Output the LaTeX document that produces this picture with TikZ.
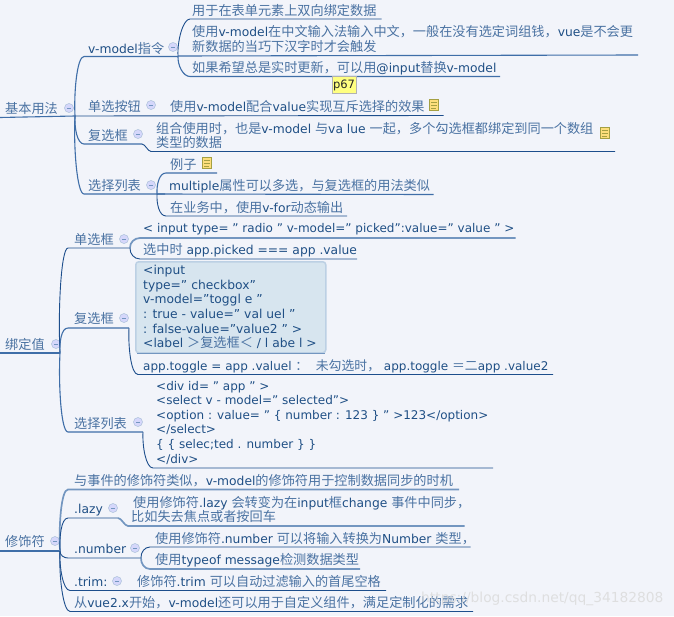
\documentclass[tikz,border=0pt]{standalone}
\usepackage{fontspec}
\setmainfont{DejaVu Sans}
\newfontfamily\cjkfam[Scale=1.07]{Noto Sans CJK SC}
\definecolor{bgc}{HTML}{F2F4FA}
\definecolor{txtc}{HTML}{1F4F85}
\definecolor{cjkc}{HTML}{4A72A2}
\definecolor{dkc}{HTML}{1D4E8C}
\definecolor{midc}{HTML}{3F6EA8}
\definecolor{ltc}{HTML}{7396C0}
\definecolor{boxc}{HTML}{D7E5EF}
\definecolor{boxe}{HTML}{BCD0E4}
\definecolor{stickc}{HTML}{FFFF80}
% automatic switch to the CJK family
\XeTeXinterchartokenstate=1
\newXeTeXintercharclass\cjkcls
\newcount\cjkcnt
\cjkcnt="2E80
\loop\ifnum\cjkcnt<"A000 \XeTeXcharclass\cjkcnt=\cjkcls \advance\cjkcnt by 1 \repeat
\cjkcnt="FF00
\loop\ifnum\cjkcnt<"FFF0 \XeTeXcharclass\cjkcnt=\cjkcls \advance\cjkcnt by 1 \repeat
\XeTeXcharclass"201D=0
\XeTeXinterchartoks 0 \cjkcls = {\begingroup\cjkfam\color{cjkc}}
\XeTeXinterchartoks 4095 \cjkcls = {\begingroup\cjkfam\color{cjkc}}
\XeTeXinterchartoks \cjkcls 0 = {\endgroup}
\XeTeXinterchartoks \cjkcls 4095 = {\endgroup}
\begin{document}
\begin{tikzpicture}[x=1pt,y=-1pt,
  every node/.style={inner sep=0pt},
  tx/.style={anchor=base west,text=txtc,font=\fontsize{12.3}{14.6}\selectfont,align=left},
  txn/.style={tx,font=\fontsize{12}{14.6}\selectfont},
  dk/.style={draw=dkc,line width=0.9pt},
  md/.style={draw=midc,line width=1.1pt},
  lt/.style={draw=ltc,line width=1.7pt},
  hku/.style={out=93,in=180,in max distance=7pt},
  hkd/.style={out=-93,in=180,in max distance=7pt},
  hks/.style={out=0,in=180,looseness=0.7},
  collapse/.style={circle,minimum size=9pt,fill=blue!12!bgc,draw=ltc!60,line width=0.5pt,
    path picture={\draw[ltc,line width=0.9pt]([xshift=2.5pt]path picture bounding box.west)--([xshift=-2.5pt]path picture bounding box.east);}},
  noteicon/.style={rectangle,minimum width=9pt,minimum height=11pt,fill=yellow!55!orange!50,draw=yellow!60!black,line width=0.8pt,
    path picture={\draw[yellow!60!black,line width=0.5pt]
      ([xshift=1.5pt,yshift=3pt]path picture bounding box.west)--([xshift=-1.5pt,yshift=3pt]path picture bounding box.east)
      ([xshift=1.5pt,yshift=0pt]path picture bounding box.west)--([xshift=-1.5pt,yshift=0pt]path picture bounding box.east)
      ([xshift=1.5pt,yshift=-3pt]path picture bounding box.west)--([xshift=-3pt,yshift=-3pt]path picture bounding box.east);}},
  stick/.style={rectangle,fill=stickc,draw=black!30,line width=0.8pt,minimum width=24pt,minimum height=17pt,text=black!85,font=\fontsize{11.5}{12}\selectfont}
]
\useasboundingbox (0,0) rectangle (674,616);
\fill[bgc] (0,0) rectangle (674,616);

% ---------- junctions
\coordinate (s0) at (0,117.5);
\coordinate (r1) at (75,116);
\coordinate (a1) at (178,56);
\coordinate (a4) at (157,194);
\coordinate (s0b) at (0,353);
\coordinate (r2) at (60,353);
\coordinate (b1) at (130,248);
\coordinate (b2) at (129,328);
\coordinate (b3) at (143,432);
\coordinate (s0c) at (0,551);
\coordinate (r3) at (60,551);
\coordinate (c2) at (118,518);
\coordinate (c3) at (141,558);

% ---------- section 1
\node[tx] (t1) at (5,113) {基本用法};
\node[collapse] (k1) at (69,108) {};
\draw[md] (s0) -- (r1);
\node[tx] (n1) at (88,53) {v-model指令};
\node[collapse] (k2) at (173,47) {};
\coordinate (e1) at (178,56.5);
\draw[md] (r1) to[hku] (84,56.5) -- (e1);
\node[tx] (n11) at (192,15) {用于在表单元素上双向绑定数据};
\coordinate (e11) at (381.5,19);
\draw[dk] (a1) to[hku] (190,19) -- (e11);
\node[tx,anchor=west] (n12) at (192,39) {使用v-model在中文输入法输入中文，一般在没有选定词组钱，vue是不会更\\新数据的当巧下汉字时才会触发};
\coordinate (e12) at (638,55);
\draw[md] (a1) -- (e12);
\node[tx] (n13) at (192,72) {如果希望总是实时更新，可以用@input替换v-model};
\coordinate (e13) at (500,76.5);
\draw[md] (a1) to[hkd] (190,76.5) -- (e13);
\node[stick] (p67) at (344,85) {p67};

\node[tx] (n2) at (88,111) {单选按钮};
\node[collapse] (k3) at (151,105) {};
\node[tx] (n21) at (170,111) {使用v-model配合value实现互斥选择的效果};
\node[noteicon] (i1) at (434,105) {};
\coordinate (e2) at (443.5,115.5);
\draw[dk] (r1) -- (e2);

\node[tx] (n3) at (88,140) {复选框};
\node[collapse] (k4) at (138,134) {};
\node[tx,anchor=west] (n31) at (156,135.5) {组合使用时，也是v-model 与va lue 一起，多个勾选框都绑定到同一个数组\\类型的数据};
\node[noteicon] (i2) at (605,133) {};
\coordinate (e3) at (615,151.5);
\draw[md] (r1) to[hkd] (84,144) -- (142,144);
\draw[dk] (142,144) to[hks] (151,151.5) -- (e3);

\node[tx] (n4) at (88,190) {选择列表};
\node[collapse] (k5) at (151,185) {};
\draw[md] (r1) to[hkd] (84,194) -- (a4) -- (165,194);
\node[tx] (n41) at (170,169) {例子};
\node[noteicon] (i3) at (207,163) {};
\coordinate (e41) at (217,173);
\draw[md] (a4) to[hku] (166,173) -- (e41);
\node[tx] (n42) at (169,190) {multiple属性可以多选，与复选框的用法类似};
\coordinate (e42) at (433.5,194.5);
\draw[md] (a4) -- (e42);
\node[tx] (n43) at (170,212) {在业务中，使用v-for动态输出};
\coordinate (e43) at (347,216);
\draw[dk] (a4) to[hkd] (166,216) -- (e43);

% ---------- section 2
\node[tx] (t2) at (5,349) {绑定值};
\node[collapse] (k6) at (56,344) {};
\draw[md] (s0b) -- (r2);
\node[tx] (m1) at (74,244) {单选框};
\node[collapse] (k7) at (124,239) {};
\draw[dk] (r2) to[hku] (68,248) -- (b1);
\node[txn] (m11) at (143,232.5) {< input type= ” radio ” v-model=” picked”:value=” value ” >};
\coordinate (e51) at (515.5,238);
\draw[lt] (b1) to[hku] (140,238) -- (e51);
\node[tx] (m12) at (143,254.5) {选中时 app.picked === app .value};
\coordinate (e52) at (357,259);
\draw[dk] (b1) to[hkd] (140,259) -- (e52);

\node[tx] (m2) at (74,323) {复选框};
\node[collapse] (k8) at (124,318) {};
\draw[md] (r2) to[hku] (68,328) -- (b2);
\draw[dk] (b2) to[hkd] (138,374.5) -- (553,374.5) coordinate (e53);
\node[anchor=north west,draw=boxe,fill=boxc,line width=1.5pt,rounded corners=3pt,minimum width=190pt,minimum height=91pt] (box) at (135,261) {};
\draw[draw=ltc,line width=1.3pt] ([xshift=2pt]box.south west) -- ([xshift=-2pt]box.south east);
\node[tx,anchor=west] (m21) at (143,307) {<input\\type=” checkbox”\\v-model=”toggl e ”\\: true - value=” val uel ”\\: false-value=”value2 ” >\\<label ＞复选框＜ / l abe l >};
\node[txn] (m22) at (143,370) {app.toggle = app .valuel ：\ \ 未勾选时， app.toggle ＝二app .value2};

\node[tx] (m3) at (74,428) {选择列表};
\node[collapse] (k9) at (138,422) {};
\draw[md] (r2) to[hkd] (68,432) -- (b3);
\draw[dk] (b3) to[hkd] (153,468) -- (493,468) coordinate (e54);
\node[txn,anchor=west] (m31) at (156,422.5) {<div id= ” app ” >\\<select v - model=” selected">\\<option : value= ” \{ number : 123 \} ” >123</option>\\</select>\\\{ \{ selec;ted . number \} \}\\</div>};

% ---------- section 3
\node[tx] (t3) at (5,546) {修饰符};
\node[collapse] (k10) at (55,541) {};
\draw[md] (s0c) -- (r3);
\node[tx] (q1) at (74,485.5) {与事件的修饰符类似，v-model的修饰符用于控制数据同步的时机};
\coordinate (e61) at (459,489.5);
\draw[lt] (r3) to[hku] (68,489.5) -- (e61);

\node[tx] (q2) at (74,513) {.lazy};
\node[collapse] (k11) at (113,508) {};
\draw[dk] (r3) to[hku] (68,518) -- (c2);
\draw[lt] (c2) to[hks] (128,526) -- (464.5,526) coordinate (e62);
\node[tx,anchor=west] (q21) at (131,509.5) {\hspace{2pt}使用修饰符.lazy 会转变为在input框change 事件中同步，\\比如失去焦点或者按回车};

\node[tx] (q3) at (74,553.5) {.number};
\node[collapse] (k12) at (135,548) {};
\draw[dk] (r3) to[hkd] (68,558) -- (c3);
\node[tx] (q31) at (155,543) {使用修饰符.number 可以将输入转换为Number 类型，};
\coordinate (e63) at (470.5,547);
\draw[dk] (c3) to[hku] (150,547) -- (e63);
\node[tx] (q32) at (155,564.5) {使用typeof message检测数据类型};
\coordinate (e64) at (360,569);
\draw[lt] (c3) to[hkd] (150,569) -- (e64);

\node[tx] (q4) at (74,586) {.trim:};
\node[collapse] (k13) at (117,581) {};
\node[tx] (q41) at (137,586) {修饰符.trim 可以自动过滤输入的首尾空格};
\coordinate (e65) at (386,590.5);
\draw[dk] (r3) to[hkd] (70,590.5) -- (e65);

\node[tx] (q5) at (74,607) {从vue2.x开始，v-model还可以用于自定义组件，满足定制化的需求};
\coordinate (e66) at (473,611.5);
\draw[dk] (r3) to[hkd] (70,611.5) -- (e66);

\node[anchor=base west,text=white!72!gray,font=\fontsize{13.8}{15}\selectfont,opacity=0.85] (wm) at (421,602) {https://blog.csdn.net/qq\_34182808};
\end{tikzpicture}
\end{document}
